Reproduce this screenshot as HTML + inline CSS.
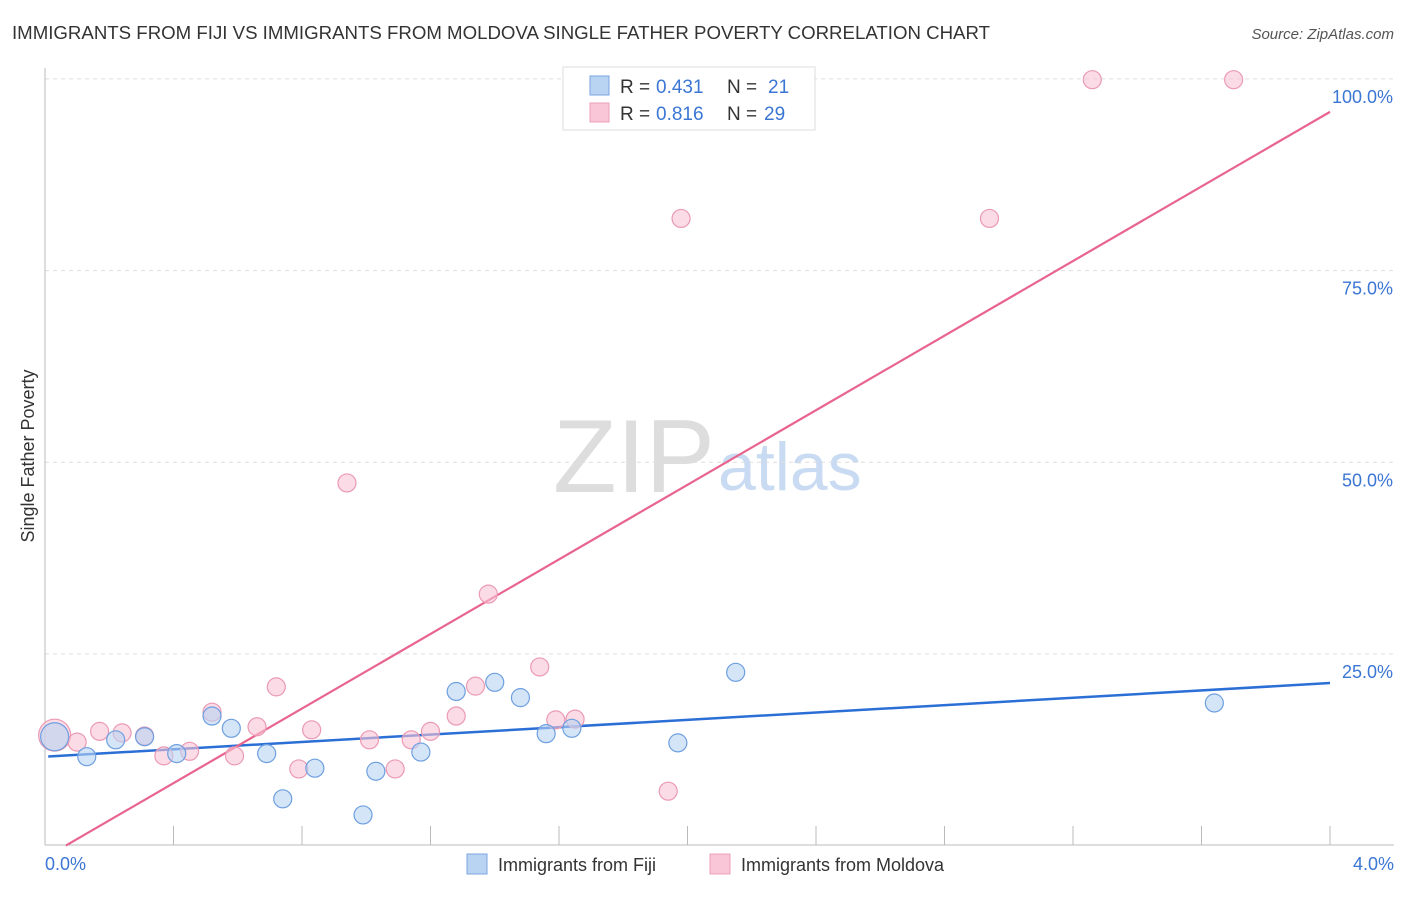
<!DOCTYPE html>
<html><head><meta charset="utf-8"><style>
body{margin:0;background:#fff;font-family:"Liberation Sans",sans-serif;}
svg text{font-family:"Liberation Sans",sans-serif;}
</style></head><body>
<svg width="1406" height="892">
<text x="12" y="39" font-size="18" fill="#333" textLength="978" lengthAdjust="spacingAndGlyphs">IMMIGRANTS FROM FIJI VS IMMIGRANTS FROM MOLDOVA SINGLE FATHER POVERTY CORRELATION CHART</text>
<text x="1394" y="39" font-size="15" fill="#555" font-style="italic" text-anchor="end">Source: ZipAtlas.com</text>
<text x="553" y="492" font-size="104" fill="#ddd" font-family="Liberation Serif" textLength="162" lengthAdjust="spacingAndGlyphs">ZIP</text>
<text x="718" y="490" font-size="68" fill="#c9dbf2">atlas</text>
<g id="grid"></g><g id="axes"></g><g id="lines"></g><g id="pts"></g>
<text transform="translate(34,456) rotate(-90)" font-size="18" fill="#333" text-anchor="middle">Single Father Poverty</text>
<text x="45" y="870" font-size="18" fill="#3b76d4">0.0%</text>
<text x="1394" y="870" font-size="18" fill="#3b76d4" text-anchor="end">4.0%</text>
<g>
<rect x="563" y="67" width="252" height="63" fill="#fff" stroke="#ddd"/>
<rect x="590" y="76" width="19" height="19" fill="#b9d3f3" stroke="#7aa6e0"/>
<rect x="590" y="103" width="19" height="19" fill="#f8c6d6" stroke="#eba0b8"/>
<text x="620" y="93" font-size="19" fill="#333">R =</text>
<text x="656" y="93" font-size="19" fill="#3b76d4">0.431</text>
<text x="727" y="93" font-size="19" fill="#333">N =</text>
<text x="768" y="93" font-size="19" fill="#3b76d4">21</text>
<text x="620" y="120" font-size="19" fill="#333">R =</text>
<text x="656" y="120" font-size="19" fill="#3b76d4">0.816</text>
<text x="727" y="120" font-size="19" fill="#333">N =</text>
<text x="764" y="120" font-size="19" fill="#3b76d4">29</text>
</g>
<g>
<rect x="467" y="854" width="20" height="20" fill="#b9d3f3" stroke="#7aa6e0"/>
<text x="498" y="871" font-size="18" fill="#333">Immigrants from Fiji</text>
<rect x="710" y="854" width="20" height="20" fill="#f8c6d6" stroke="#eba0b8"/>
<text x="741" y="871" font-size="18" fill="#333">Immigrants from Moldova</text>
</g>
</svg>
<script>
const yTicks=[25,50,75,100];
const yTickLabels=["25.0%","50.0%","75.0%","100.0%"];
const xTicks=[0,0.4,0.8,1.2,1.6,2.0,2.4,2.8,3.2,3.6,4.0];
const fijiX=[0.03,0.13,0.22,0.31,0.41,0.52,0.58,0.69,0.74,0.84,0.99,1.03,1.17,1.28,1.40,1.48,1.56,1.64,1.97,2.15,3.64];
const fijiY=[14.2,11.6,13.8,14.2,12.0,16.9,15.3,12.0,6.1,10.1,4.0,9.7,12.2,20.1,21.3,19.3,14.6,15.3,13.4,22.6,18.6];
const molX=[0.03,0.10,0.17,0.24,0.31,0.37,0.45,0.52,0.59,0.66,0.72,0.79,0.83,0.94,1.01,1.09,1.14,1.20,1.28,1.34,1.38,1.54,1.59,1.65,1.94,1.98,2.94,3.26,3.70];
const molY=[14.4,13.5,14.9,14.7,14.3,11.7,12.3,17.4,11.7,15.5,20.7,10.0,15.1,47.3,13.8,10.0,13.8,14.9,16.9,20.8,32.8,23.3,16.4,16.5,7.1,81.8,81.8,99.9,99.9];
const fijiTrend=[11.6,2.4];
const molTrend=[-1.58,24.32];
const X=v=>45+v/4*1285, Y=v=>845.6-v*7.667;
const NS="http://www.w3.org/2000/svg";
function mk(t,a,p){const e=document.createElementNS(NS,t);for(const k in a)e.setAttribute(k,a[k]);p.appendChild(e);return e;}
const grid=document.getElementById('grid'),axes=document.getElementById('axes'),lines=document.getElementById('lines'),pts=document.getElementById('pts');
yTicks.forEach((t,i)=>{
 const l=mk('line',{x1:45,x2:1394,y1:Y(t),y2:Y(t),stroke:'#ddd','stroke-dasharray':'4,4'},grid);
 
 
 const tx=mk('text',{x:1393,y:Y(t)+24,'font-size':18,fill:'#3b76d4','text-anchor':'end'},grid);
 tx.textContent=yTickLabels[i];
 
 
});
const ya=mk('line',{x1:45,x2:45,y1:68,y2:845,stroke:'#bbb'},axes);


const xa=mk('line',{x1:45,x2:1394,y1:845,y2:845,stroke:'#bbb'},axes);


xTicks.forEach(t=>{const l=mk('line',{x1:X(t),x2:X(t),y1:826,y2:845,stroke:'#bbb'},axes);
 
 });
function pt(x,y,r,f,s,name){const c=mk('circle',{cx:X(x),cy:Y(y),r:r,fill:f,'fill-opacity':0.6,stroke:s,'stroke-width':1.2},pts);
 
 }
molX.forEach((x,i)=>pt(x,molY[i],i==0?16:9,'#f8c3d3','#eb9ab4','moldova-point'));
fijiX.forEach((x,i)=>pt(x,fijiY[i],i==0?14:9,'#b9d3f3','#6e9fe0','fiji-point'));
const bl=mk('line',{x1:X(0.01),y1:Y(fijiTrend[0]+fijiTrend[1]*0.01),x2:X(4),y2:Y(fijiTrend[0]+fijiTrend[1]*4),stroke:'#2b6fd6','stroke-width':2.5},lines);


const x0=-molTrend[0]/molTrend[1];
const pl=mk('line',{x1:X(x0),y1:Y(0),x2:X(4),y2:Y(molTrend[0]+molTrend[1]*4),stroke:'#e8648e','stroke-width':2.2},lines);


</script>
</body></html>
